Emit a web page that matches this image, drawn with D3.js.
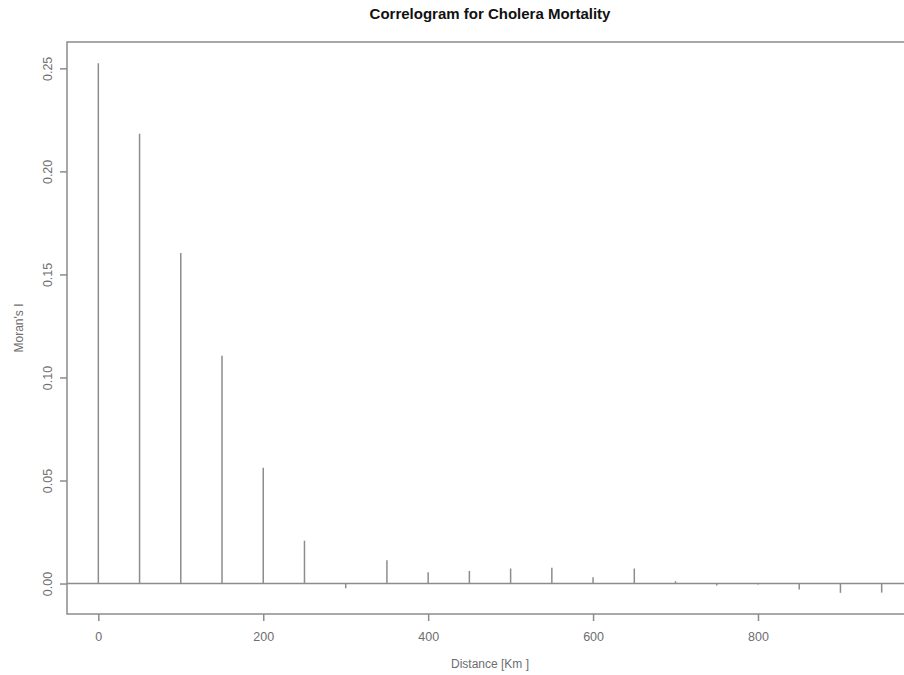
<!DOCTYPE html>
<html>
<head>
<meta charset="utf-8">
<script src="https://cdn.jsdelivr.net/npm/d3@7/dist/d3.min.js"></script>
<style>
  html, body { margin: 0; padding: 0; background: #fff; }
  svg { display: block; }
  text { font-family: "Liberation Sans", Arial, sans-serif; }
</style>
</head>
<body>
<svg id="chart" width="904" height="675"></svg>
<script>
// Distance classes (km) and Moran's I for each lag
const distances = [0, 50, 100, 150, 200, 250, 300, 350, 400, 450,
                   500, 550, 600, 650, 700, 750, 800, 850, 900, 950];
const moranI = [0.2525, 0.2182, 0.1604, 0.1105, 0.0562, 0.0208, -0.0023, 0.0113, 0.0055, 0.0061,
                0.0073, 0.0077, 0.0031, 0.0073, 0.0011, -0.0010, -0.0005, -0.0029, -0.0045, -0.0044];
const xTicks = [0, 200, 400, 600, 800];
const yTicks = [0.00, 0.05, 0.10, 0.15, 0.20, 0.25];

const svg = d3.select("#chart");
const plotL = 67, plotT = 42, plotB = 614, plotR = 913;
const lineCol = "#8c8c8c", textCol = "#6e6e6e";

// R-style 4% padding around the data range
const xr = d3.extent(distances), yr = d3.extent(moranI);
const xPad = (xr[1] - xr[0]) * 0.04, yPad = (yr[1] - yr[0]) * 0.04;
const x = d3.scaleLinear().domain([xr[0] - xPad, xr[1] + xPad]).range([plotL, plotR]);
const y = d3.scaleLinear().domain([yr[0] - yPad, yr[1] + yPad]).range([plotB, plotT]);

// plot frame
svg.append("rect")
  .attr("x", plotL).attr("y", plotT)
  .attr("width", plotR - plotL).attr("height", plotB - plotT)
  .attr("fill", "none").attr("stroke", lineCol).attr("stroke-width", 1.5);

// zero reference line
svg.append("line")
  .attr("x1", plotL).attr("x2", plotR)
  .attr("y1", y(0)).attr("y2", y(0))
  .attr("stroke", lineCol).attr("stroke-width", 1.5);

// vertical spikes (type = "h")
svg.append("g").selectAll("line").data(distances).join("line")
  .attr("x1", d => x(d)).attr("x2", d => x(d))
  .attr("y1", y(0)).attr("y2", (d, i) => y(moranI[i]))
  .attr("stroke", lineCol).attr("stroke-width", 1.5);

// x axis
const xAxis = svg.append("g").attr("transform", `translate(0,${plotB})`)
  .call(d3.axisBottom(x).tickValues(xTicks).tickSize(7).tickPadding(11).tickFormat(d3.format("d")));
xAxis.select(".domain").remove();
xAxis.selectAll("line").attr("stroke", lineCol).attr("stroke-width", 1.5);
xAxis.selectAll("text").attr("fill", textCol).style("font-size", "12.5px");

// y axis with rotated labels
const yAxis = svg.append("g").attr("transform", `translate(${plotL},0)`)
  .call(d3.axisLeft(y).tickValues(yTicks).tickSize(7).tickFormat(d3.format(".2f")));
yAxis.select(".domain").remove();
yAxis.selectAll("line").attr("stroke", lineCol).attr("stroke-width", 1.5);
yAxis.selectAll("text")
  .attr("fill", textCol).style("font-size", "12.5px")
  .attr("x", null)
  .attr("text-anchor", "middle")
  .attr("transform", "translate(-19,0) rotate(-90)")
  .attr("dy", "0.35em");

// titles
svg.append("text")
  .attr("x", (plotL + plotR) / 2).attr("y", 19)
  .attr("text-anchor", "middle")
  .style("font-size", "15px").style("font-weight", "bold")
  .attr("fill", "#111")
  .text("Correlogram for Cholera Mortality");

svg.append("text")
  .attr("x", (plotL + plotR) / 2).attr("y", 668)
  .attr("text-anchor", "middle")
  .style("font-size", "12px").attr("fill", textCol)
  .text("Distance [Km ]");

svg.append("text")
  .attr("transform", `translate(23,${(plotT + plotB) / 2}) rotate(-90)`)
  .attr("text-anchor", "middle")
  .style("font-size", "12px").attr("fill", textCol)
  .text("Moran's I");
</script>
</body>
</html>
